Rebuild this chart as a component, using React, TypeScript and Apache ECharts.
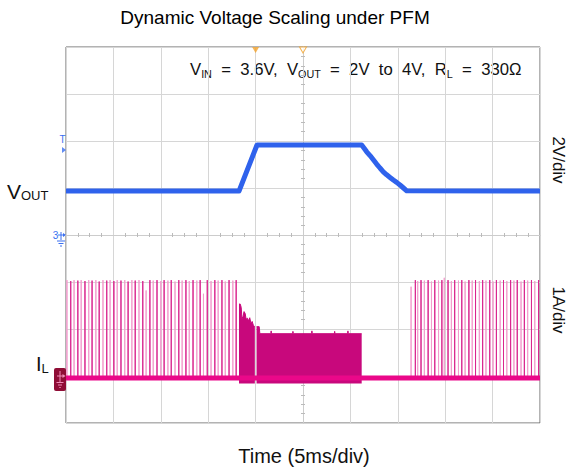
import React, { useEffect, useRef } from "react";
import * as echarts from "echarts";

const FONT = "'Liberation Sans', Arial, Helvetica, sans-serif";

// Time axis: ms relative to trigger, 5 ms/div, 10 divisions
const timeMin = -25;
const timeMax = 25;
const timeStep = 5;
// VOUT channel: 2 V/div, ground at screen centre, 8 divisions
const voutMin = -8;
const voutMax = 8;
const voutStep = 2;
// IL channel: 1 A/div, ground 3.04 div below centre
const ilMin = -0.96;
const ilMax = 7.04;

// VOUT trace [t ms, V]
const voutTrace: [number, number][] = [
  [-25, 1.87], [-6.75, 1.87], [-4.85, 3.83], [6.19, 3.83], [6.45, 3.69], [6.72, 3.54],
  [7.07, 3.38], [7.42, 3.2], [7.77, 3.02], [8.12, 2.85], [8.47, 2.69], [8.83, 2.56],
  [9.18, 2.45], [9.53, 2.34], [9.88, 2.24], [10.23, 2.13], [10.6, 2.0], [10.94, 1.88], [25, 1.87],
];

// PFM inductor current pulses before the transition [t ms, peak A]
const ilPulsesBefore: [number, number][] = [
  [-24.9, 2.08], [-24.5, 2.06], [-24.15, 2.08], [-23.75, 2.07], [-23.4, 2.08], [-23.0, 2.06],
  [-22.6, 2.08], [-22.25, 2.07], [-21.85, 2.08], [-21.5, 2.05], [-21.1, 2.08], [-20.7, 2.07],
  [-20.35, 2.08], [-19.95, 2.06], [-19.6, 2.08], [-19.2, 2.07], [-18.8, 2.08], [-18.45, 2.05],
  [-18.05, 2.08], [-17.7, 2.07], [-17.3, 2.08], [-16.9, 2.06], [-16.55, 1.86], [-16.15, 2.08],
  [-15.8, 2.07], [-15.4, 2.08], [-15.0, 2.06], [-14.65, 2.08], [-14.25, 2.07], [-13.9, 2.08],
  [-13.5, 2.05], [-13.1, 2.08], [-12.75, 2.07], [-12.35, 2.08], [-12.0, 2.06], [-11.6, 2.08],
  [-11.2, 2.07], [-10.85, 2.08], [-10.5, 1.79], [-10.1, 2.08], [-9.7, 2.06], [-9.3, 2.08],
  [-8.95, 2.07], [-8.55, 2.08], [-8.2, 2.05], [-7.8, 2.08], [-7.4, 2.07], [-7.05, 2.08],
];

// PFM pulses after the transition [t ms, peak A]
const ilPulsesAfter: [number, number][] = [
  [11.4, 1.94], [11.85, 2.08], [12.1, 2.06], [12.45, 2.08], [12.8, 2.07], [13.2, 2.08],
  [13.55, 2.05], [13.9, 2.08], [14.3, 2.07], [14.65, 2.08], [14.9, 2.13], [15.3, 2.08],
  [15.65, 2.06], [16.0, 2.08], [16.4, 2.07], [16.75, 2.08], [17.1, 2.05], [17.5, 2.08],
  [17.85, 2.07], [18.2, 2.08], [18.6, 2.06], [18.95, 2.08], [19.3, 2.07], [19.7, 2.08],
  [20.05, 2.05], [20.4, 2.08], [20.8, 2.07], [21.15, 2.08], [21.5, 2.06], [21.9, 2.08],
  [22.25, 2.07], [22.6, 2.08], [23.0, 2.05], [23.35, 2.08], [23.7, 2.07], [24.1, 2.08],
  [24.45, 2.06], [24.85, 2.08],
];

// Dense switching burst envelope (upper edge) [t ms, A]
const ilBurstA: [number, number][] = [
  [-6.75, 1.57], [-6.62, 1.57], [-6.52, 1.5], [-6.44, 1.26], [-6.32, 1.31], [-6.22, 1.41],
  [-6.1, 1.37], [-6.0, 1.25], [-5.86, 1.27], [-5.74, 1.21], [-5.62, 1.28], [-5.5, 1.17],
  [-5.36, 1.2], [-5.24, 1.12], [-5.08, 1.09],
];
const ilBurstB: [number, number][] = [
  [-4.9, 1.09], [-4.62, 1.09], [-4.55, 0.94], [-3.4, 0.94], [-3.36, 1.0], [-3.32, 0.94],
  [-1.1, 0.94], [-1.06, 0.99], [-1.02, 0.94], [0.9, 0.94], [0.94, 1.0], [0.98, 0.94],
  [3.3, 0.94], [3.34, 0.99], [3.38, 0.94], [4.7, 0.94], [4.74, 1.0], [4.78, 0.94], [6.19, 0.94],
];
const ilBurstFloor = -0.12;
const ilBaseline = 0;

// Scope markers
const cursorTime = -5;
const triggerTime = 0;
const triggerLevel = 3.62;

const BLUE = "#2f62ec";
const PINK = "#ea0889";
const PINK_LIGHT = "#f39ccd";
const PINK_DARK = "#d9258e";
const BURST = "#c8087c";
const ORANGE = "#f3a22c";

function pulseData(list: [number, number][], parity: number) {
  const out: [number, number][] = [];
  list.forEach(([t, p], i) => {
    if (i % 2 === parity) out.push([t, ilBaseline], [t, p], [t, ilBaseline]);
  });
  return out;
}

const allPulses = [...ilPulsesBefore, ...ilPulsesAfter];

function centreXAxis(position: string, withSplit: boolean) {
  return {
    type: "value",
    min: timeMin,
    max: timeMax,
    interval: timeStep,
    position,
    axisLine: { show: true, onZero: true, onZeroAxisIndex: 0, lineStyle: { color: "#cccccc", width: 1 } },
    axisTick: { show: false },
    minorTick: { show: true, splitNumber: 4, length: 2, lineStyle: { color: "#bbbbbb", width: 1 } },
    axisLabel: { show: false },
    splitLine: { show: withSplit, lineStyle: { color: "#d6d6d6", width: 1 } },
    minorSplitLine: { show: false },
  };
}

function centreYAxis(position: string, withSplit: boolean) {
  return {
    type: "value",
    min: voutMin,
    max: voutMax,
    interval: voutStep,
    position,
    axisLine: { show: true, onZero: true, onZeroAxisIndex: 0, lineStyle: { color: "#cccccc", width: 1 } },
    axisTick: { show: false },
    minorTick: { show: true, splitNumber: 5, length: 2, lineStyle: { color: "#bbbbbb", width: 1 } },
    axisLabel: { show: false },
    splitLine: { show: withSplit, lineStyle: { color: "#d6d6d6", width: 1 } },
  };
}

const option: any = {
  animation: false,
  backgroundColor: "#ffffff",
  grid: {
    left: 66,
    right: 36,
    top: 47,
    bottom: 47,
    show: true,
    borderColor: "#666666",
    borderWidth: 1,
    backgroundColor: "transparent",
  },
  xAxis: [centreXAxis("bottom", true), centreXAxis("top", false)],
  yAxis: [
    centreYAxis("left", true),
    { type: "value", min: ilMin, max: ilMax, show: false, axisLine: { onZero: false }, splitLine: { show: false } },
    centreYAxis("right", false),
  ],
  series: [
    {
      type: "line",
      xAxisIndex: 0,
      yAxisIndex: 1,
      data: pulseData(allPulses, 0),
      symbol: "none",
      lineStyle: { color: PINK_LIGHT, width: 1 },
      z: 2,
    },
    {
      type: "line",
      xAxisIndex: 0,
      yAxisIndex: 1,
      data: pulseData(allPulses, 1),
      symbol: "none",
      lineStyle: { color: PINK_DARK, width: 1 },
      z: 3,
    },
    {
      type: "line",
      xAxisIndex: 0,
      yAxisIndex: 1,
      data: ilBurstA,
      symbol: "none",
      lineStyle: { color: BURST, width: 1 },
      areaStyle: { color: BURST, opacity: 1, origin: ilBurstFloor },
      z: 4,
    },
    {
      type: "line",
      xAxisIndex: 0,
      yAxisIndex: 1,
      data: ilBurstB,
      symbol: "none",
      lineStyle: { color: BURST, width: 1 },
      areaStyle: { color: BURST, opacity: 1, origin: ilBurstFloor },
      z: 4,
    },
    {
      type: "line",
      xAxisIndex: 0,
      yAxisIndex: 1,
      data: [[timeMin, ilBaseline], [timeMax, ilBaseline]],
      symbol: "none",
      lineStyle: { color: PINK, width: 5 },
      z: 5,
    },
    {
      type: "line",
      xAxisIndex: 0,
      yAxisIndex: 0,
      data: voutTrace,
      symbol: "none",
      lineStyle: { color: BLUE, width: 5, join: "round" },
      z: 6,
    },
    {
      type: "scatter",
      xAxisIndex: 0,
      yAxisIndex: 0,
      clip: false,
      silent: true,
      data: [
        { value: [cursorTime, voutMax], itemStyle: { color: ORANGE } },
        { value: [triggerTime, voutMax], itemStyle: { color: "#ffffff", borderColor: ORANGE, borderWidth: 1 } },
      ],
      symbol: "triangle",
      symbolRotate: 180,
      symbolSize: [7, 6],
      symbolOffset: [0, 3],
      z: 10,
    },
    {
      type: "scatter",
      xAxisIndex: 0,
      yAxisIndex: 0,
      clip: false,
      silent: true,
      data: [[timeMin, triggerLevel]],
      symbol: "triangle",
      symbolRotate: -90,
      symbolSize: [6, 4],
      symbolOffset: [-2, 0],
      itemStyle: { color: "#3a6ff0" },
      z: 10,
    },
  ],
  graphic: [
    {
      type: "text",
      x: 275,
      y: 17,
      style: {
        text: "Dynamic Voltage Scaling under PFM",
        fontSize: 19,
        fontFamily: FONT,
        fill: "#000",
        align: "center",
        verticalAlign: "middle",
      },
    },
    {
      type: "text",
      x: 190,
      y: 69,
      style: {
        text:
          "{b|V}{s|IN}{b|\u00a0\u00a0=\u00a0\u00a03.6V,\u00a0\u00a0V}{s|OUT}{b|\u00a0\u00a0=\u00a0\u00a02V\u00a0\u00a0to\u00a0\u00a04V,\u00a0\u00a0R}{s|L}{b|\u00a0\u00a0=\u00a0\u00a0330Ω}",
        align: "left",
        verticalAlign: "middle",
        rich: {
          b: { fontSize: 16.7, fontFamily: FONT, fill: "#111", lineHeight: 20 },
          s: { fontSize: 10.8, fontFamily: FONT, fill: "#111", lineHeight: 10, verticalAlign: "bottom" },
        },
      },
    },
    {
      type: "text",
      x: 558,
      y: 160,
      rotation: -Math.PI / 2,
      style: { text: "2V/div", fontSize: 17, fontFamily: FONT, fill: "#111", align: "center", verticalAlign: "middle" },
    },
    {
      type: "text",
      x: 558,
      y: 310,
      rotation: -Math.PI / 2,
      style: { text: "1A/div", fontSize: 17, fontFamily: FONT, fill: "#111", align: "center", verticalAlign: "middle" },
    },
    {
      type: "text",
      x: 304,
      y: 456,
      style: { text: "Time (5ms/div)", fontSize: 20, fontFamily: FONT, fill: "#111", align: "center", verticalAlign: "middle" },
    },
    {
      type: "text",
      x: 7,
      y: 191,
      style: {
        text: "{b|V}{s|OUT}",
        align: "left",
        verticalAlign: "middle",
        rich: {
          b: { fontSize: 21, fontFamily: FONT, fill: "#111", lineHeight: 22 },
          s: { fontSize: 13, fontFamily: FONT, fill: "#111", lineHeight: 12, verticalAlign: "bottom" },
        },
      },
    },
    {
      type: "text",
      x: 36,
      y: 364,
      style: {
        text: "{b|I}{s|L}",
        align: "left",
        verticalAlign: "middle",
        rich: {
          b: { fontSize: 20, fontFamily: FONT, fill: "#111", lineHeight: 22 },
          s: { fontSize: 13, fontFamily: FONT, fill: "#111", lineHeight: 12, verticalAlign: "bottom" },
        },
      },
    },
    // trigger level "T" label
    {
      type: "text",
      x: 62.5,
      y: 139,
      style: { text: "T", fontSize: 10, fontFamily: FONT, fill: "#3a6ff0", align: "center", verticalAlign: "middle" },
    },
    // channel 3 ground marker
    {
      type: "text",
      x: 55.5,
      y: 235.5,
      style: { text: "3", fontSize: 10, fontFamily: FONT, fill: "#3a6ff0", align: "center", verticalAlign: "middle" },
    },
    {
      type: "group",
      children: [
        { type: "line", shape: { x1: 58, y1: 235, x2: 64, y2: 235 }, style: { stroke: "#3a6ff0", lineWidth: 1 } },
        { type: "line", shape: { x1: 61, y1: 232, x2: 61, y2: 240 }, style: { stroke: "#3a6ff0", lineWidth: 1 } },
        { type: "line", shape: { x1: 57, y1: 241, x2: 65, y2: 241 }, style: { stroke: "#3a6ff0", lineWidth: 1 } },
        { type: "line", shape: { x1: 58.5, y1: 243.5, x2: 63.5, y2: 243.5 }, style: { stroke: "#3a6ff0", lineWidth: 1 } },
        { type: "line", shape: { x1: 60, y1: 246, x2: 62, y2: 246 }, style: { stroke: "#3a6ff0", lineWidth: 1 } },
        { type: "polygon", shape: { points: [[63, 233], [66, 235], [63, 237]] }, style: { fill: "#3a6ff0" } },
      ],
    },
    // IL ground marker box
    {
      type: "group",
      children: [
        { type: "rect", shape: { x: 54, y: 368, width: 12, height: 23, r: 2 }, style: { fill: "#8f0d36" } },
        { type: "line", shape: { x1: 57, y1: 376, x2: 64, y2: 376 }, style: { stroke: "#f08cb8", lineWidth: 1 } },
        { type: "line", shape: { x1: 60, y1: 371, x2: 60, y2: 382 }, style: { stroke: "#f08cb8", lineWidth: 1 } },
        { type: "line", shape: { x1: 56.5, y1: 382.5, x2: 63.5, y2: 382.5 }, style: { stroke: "#f08cb8", lineWidth: 1 } },
        { type: "line", shape: { x1: 58, y1: 385, x2: 62, y2: 385 }, style: { stroke: "#f08cb8", lineWidth: 1 } },
        { type: "line", shape: { x1: 59.3, y1: 387.5, x2: 60.7, y2: 387.5 }, style: { stroke: "#f08cb8", lineWidth: 1 } },
        { type: "polygon", shape: { points: [[62.5, 374], [65.5, 376], [62.5, 378]] }, style: { fill: "#f08cb8" } },
      ],
    },
  ],
};

export default function App() {
  const ref = useRef<HTMLDivElement>(null);
  useEffect(() => {
    if (!ref.current) return;
    const chart = echarts.init(ref.current, null, { renderer: "svg" });
    chart.setOption(option);
    return () => {
      chart.dispose();
    };
  }, []);
  return (
    <div
      ref={ref}
      style={{ position: "absolute", left: 0, top: 0, width: 576, height: 470 }}
    />
  );
}
